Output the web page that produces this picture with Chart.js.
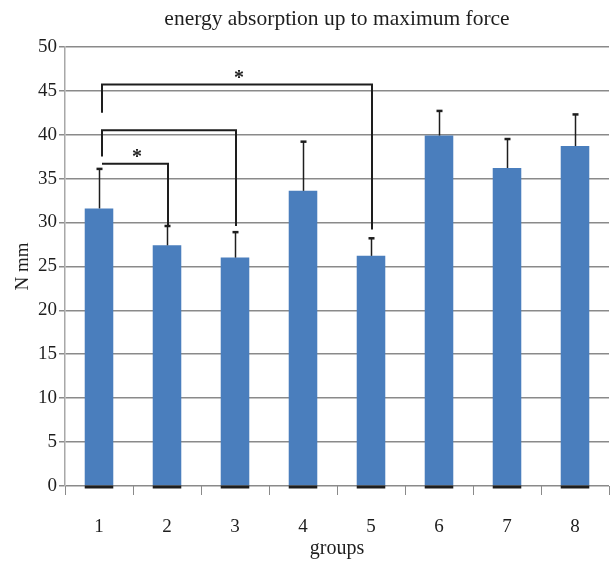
<!DOCTYPE html>
<html>
<head>
<meta charset="utf-8">
<script src="https://cdn.jsdelivr.net/npm/chart.js@4/dist/chart.umd.min.js"></script>
<style>
  html, body { margin: 0; padding: 0; background: #ffffff; }
  #wrap { width: 610px; height: 561px; }
</style>
</head>
<body>
<div id="wrap"><canvas id="c" width="610" height="561"></canvas></div>
<script>
// Group labels on the x axis
const groups = ['1', '2', '3', '4', '5', '6', '7', '8'];
// Mean energy absorption up to maximum force (N mm)
const meanEnergy = [31.6, 27.4, 26.0, 33.6, 26.2, 39.9, 36.2, 38.7];
// Upper end of each error bar (mean + SD)
const errorTop = [36.1, 29.6, 28.9, 39.2, 28.2, 42.7, 39.5, 42.3];

// Significance brackets: from group, to group, bracket height,
// lower end of left leg, lower end of right leg, marker text
const bracketFrom  = [1, 1, 1];
const bracketTo    = [5, 3, 2];
const bracketLevel = [45.7, 40.5, 36.7];
const bracketLeftEnd  = [42.5, 37.5, 36.7];
const bracketRightEnd = [29.2, 29.6, 29.6];
const bracketMark  = ['*', '', '*'];

const serif = "'Liberation Serif', 'DejaVu Serif', serif";
const ink = '#1e1e1e';
const gridGray = '#8a8a8a';

// Draws the SD whiskers and the significance brackets on top of the bars
const annotations = {
  id: 'annotations',
  afterDatasetsDraw(chart) {
    const { ctx, scales: { x, y } } = chart;
    const meta = chart.getDatasetMeta(0);
    ctx.save();
    ctx.strokeStyle = ink;

    // error bars
    meta.data.forEach((bar, i) => {
      const cx = Math.round(bar.x) + 0.5;
      const yTop = y.getPixelForValue(errorTop[i]);
      const yMean = y.getPixelForValue(meanEnergy[i]);
      ctx.lineWidth = 1.5;
      ctx.beginPath();
      ctx.moveTo(cx, yMean);
      ctx.lineTo(cx, yTop);
      ctx.stroke();
      ctx.lineWidth = 2.5;
      ctx.beginPath();
      ctx.moveTo(cx - 3, yTop);
      ctx.lineTo(cx + 3, yTop);
      ctx.stroke();
      // dark base line along the foot of each bar
      ctx.lineWidth = 3;
      ctx.beginPath();
      ctx.moveTo(bar.x - bar.width / 2, y.getPixelForValue(0) + 1);
      ctx.lineTo(bar.x + bar.width / 2, y.getPixelForValue(0) + 1);
      ctx.stroke();
    });

    // brackets
    ctx.font = "bold 20px " + serif;
    ctx.fillStyle = ink;
    ctx.textAlign = 'center';
    ctx.textBaseline = 'alphabetic';
    bracketFrom.forEach((from, k) => {
      const to = bracketTo[k];
      const xl = x.getPixelForValue(from - 1) + 3;
      const xr = x.getPixelForValue(to - 1) + 1;
      const yl = y.getPixelForValue(bracketLevel[k]);
      ctx.lineWidth = 2;
      ctx.beginPath();
      ctx.moveTo(xl, y.getPixelForValue(bracketLeftEnd[k]));
      ctx.lineTo(xl, yl);
      ctx.lineTo(xr, yl);
      ctx.lineTo(xr, y.getPixelForValue(bracketRightEnd[k]));
      ctx.stroke();
      if (bracketMark[k]) {
        ctx.fillText(bracketMark[k], (xl + xr) / 2 + 2, yl - 1);
      }
    });
    ctx.restore();
  }
};

new Chart(document.getElementById('c'), {
  type: 'bar',
  data: {
    labels: groups,
    datasets: [{
      data: meanEnergy,
      backgroundColor: '#4a7ebd',
      borderWidth: 0,
      categoryPercentage: 1.0,
      barPercentage: 0.42
    }]
  },
  options: {
    responsive: false,
    animation: false,
    devicePixelRatio: 1,
    layout: { padding: { top: 0, right: 1, bottom: 0, left: 0 } },
    plugins: {
      legend: { display: false },
      tooltip: { enabled: false },
      title: {
        display: true,
        text: 'energy absorption up to maximum force',
        color: ink,
        fullSize: false,
        font: { family: serif, size: 21.5, weight: 'normal' },
        padding: { top: 6, bottom: 15 }
      }
    },
    scales: {
      x: {
        offset: true,
        grid: {
          display: true,
          drawOnChartArea: false,
          drawTicks: true,
          tickLength: 9,
          color: gridGray,
          offset: true
        },
        border: { display: false },
        ticks: {
          color: ink,
          font: { family: serif, size: 19 },
          padding: 21
        },
        title: {
          display: true,
          text: 'groups',
          color: ink,
          font: { family: serif, size: 20 },
          padding: { top: 0, bottom: 0 }
        },
        afterFit(scale) { scale.height = 75; }
      },
      y: {
        min: 0,
        max: 50,
        ticks: {
          stepSize: 5,
          color: ink,
          font: { family: serif, size: 19 },
          padding: 2
        },
        grid: {
          color: gridGray,
          lineWidth: 1.5,
          tickLength: 6
        },
        border: { display: true, color: '#a8a8a8', width: 1.5 },
        title: {
          display: true,
          text: 'N mm',
          color: ink,
          font: { family: serif, size: 19 },
          padding: { top: 12, bottom: 0 }
        },
        afterFit(scale) { scale.width = 65; }
      }
    }
  },
  plugins: [annotations]
});
</script>
</body>
</html>
